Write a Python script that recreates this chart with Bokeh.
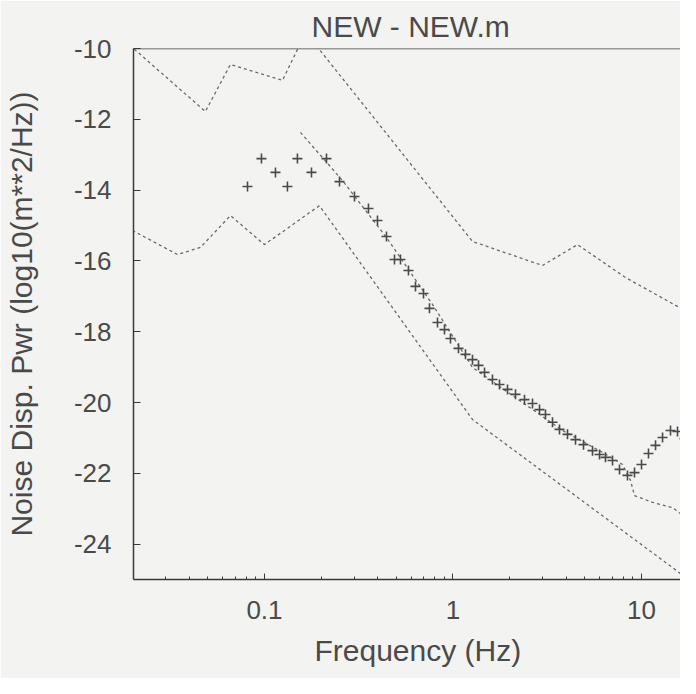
from bokeh.plotting import figure
from bokeh.models import FixedTicker, Title, Span
from bokeh.embed import file_html
from bokeh.resources import INLINE

# ---- data ----
x_ticks = [0.1, 1, 10]
x_tick_labels = ["0.1", "1", "10"]
y_ticks = [-24, -22, -20, -18, -16, -14, -12, -10]
y_tick_labels = ["-24", "-22", "-20", "-18", "-16", "-14", "-12", "-10"]

# measured spectrum (markers)
data_f = [0.0813, 0.0964, 0.1144, 0.1324, 0.1496, 0.1776, 0.2133, 0.2500, 0.3002,
          0.3562, 0.3977, 0.4439, 0.4895, 0.5266, 0.5805, 0.6326, 0.6976, 0.7503,
          0.8276, 0.9014, 0.9699, 1.0695, 1.165, 1.269, 1.366, 1.470, 1.620, 1.765,
          1.946, 2.146, 2.395, 2.641, 2.877, 3.095, 3.372, 3.673, 4.050, 4.466,
          4.924, 5.497, 5.988, 6.442, 7.019, 7.644, 8.426, 9.181, 10.00, 10.89,
          11.87, 12.93, 14.25, 15.52, 16.91]
data_p = [-13.90, -13.11, -13.50, -13.90, -13.11, -13.50, -13.11, -13.76, -14.18,
          -14.52, -14.86, -15.31, -15.96, -15.96, -16.27, -16.72, -16.92, -17.34,
          -17.74, -17.94, -18.19, -18.47, -18.64, -18.79, -18.95, -19.15, -19.35, -19.49,
          -19.63, -19.77, -19.92, -20.03, -20.20, -20.34, -20.56, -20.76, -20.90, -21.05,
          -21.19, -21.36, -21.47, -21.55, -21.64, -21.89, -22.06, -21.98, -21.75, -21.44,
          -21.21, -20.99, -20.79, -20.82, -21.02]

# upper envelope (dotted)
high_f = [0.0180, 0.0202, 0.0486, 0.0660, 0.1246, 0.1496, 0.1712, 0.1957, 1.269,
          2.984, 4.576, 8.224, 17.76]
high_p = [-9.6, -10.0, -11.78, -10.45, -10.90, -10.03, -9.7, -10.03, -15.45,
          -16.13, -15.54, -16.47, -17.46]

# lower envelope (dotted)
low_f = [0.01994, 0.03455, 0.04576, 0.0660, 0.100, 0.1957, 1.269, 17.76]
low_p = [-15.14, -15.82, -15.62, -14.72, -15.54, -14.44, -20.48, -25.0]

# smoothed spectrum (dotted)
mid_f = [0.1552, 0.2594, 0.4439, 0.7785, 1.269, 2.337, 3.810, 6.211, 7.930, 8.742,
         9.181, 11.44, 14.60, 17.76]
mid_p = [-12.37, -13.73, -15.34, -17.23, -19.01, -20.0, -20.79, -21.41, -21.75,
         -22.2, -22.63, -22.82, -22.97, -23.31]

BG = "#f3f3f1"
INK = "#4a4a4a"
AX = "#3a3a3a"
FONT = "Liberation Sans"

p = figure(width=680, height=678, x_axis_type="log",
           x_range=(0.0202, 16.1), y_range=(-25, -10),
           output_backend="svg", toolbar_location=None,
           min_border_left=133, min_border_top=48, min_border_bottom=99,
           min_border_right=0)
p.background_fill_color = BG
p.border_fill_color = BG
p.outline_line_color = None
p.grid.visible = False

dots = dict(line_color="#6a6a6a", line_width=1.3, line_dash="3 3")
p.line(high_f, high_p, **dots)
p.line(low_f, low_p, **dots)
p.line(mid_f, mid_p, **dots)
p.scatter(data_f, data_p, marker="cross", size=10, line_width=1.6, line_color=INK)

# top border of the frame
p.add_layout(Span(location=y_ticks[-1], dimension="width", line_color=AX, line_width=1.5))

minor = [m * d for d in (0.01, 0.1, 1, 10) for m in range(2, 10)]

# x axis
xa = p.xaxis[0]
xa.ticker = FixedTicker(ticks=x_ticks, minor_ticks=minor)
xa.major_label_overrides = dict(zip(x_ticks, x_tick_labels))
xa.major_tick_in = 6
xa.major_tick_out = 0
xa.minor_tick_in = 3
xa.minor_tick_out = 0
xa.axis_line_color = AX
xa.axis_line_width = 1.5
xa.major_tick_line_color = AX
xa.minor_tick_line_color = AX
xa.major_label_standoff = 21
xa.major_label_text_font = FONT
xa.major_label_text_font_size = "26px"
xa.major_label_text_color = INK

# y axis
ya = p.yaxis[0]
ya.ticker = FixedTicker(ticks=y_ticks)
ya.major_label_overrides = dict(zip(y_ticks, y_tick_labels))
ya.major_tick_in = 7
ya.major_tick_out = 0
ya.minor_tick_line_color = None
ya.axis_line_color = AX
ya.axis_line_width = 1.5
ya.major_tick_line_color = AX
ya.major_label_standoff = 22
ya.major_label_text_font = FONT
ya.major_label_text_font_size = "26px"
ya.major_label_text_color = INK
ya.axis_label = "Noise Disp. Pwr (log10(m**2/Hz))"
ya.axis_label_text_font = FONT
ya.axis_label_text_font_size = "30px"
ya.axis_label_text_font_style = "normal"
ya.axis_label_text_color = INK
ya.axis_label_standoff = 33

# title
p.title.text = "NEW - NEW.m"
p.title.align = "left"
p.title.offset = 178
p.title.standoff = 12
p.title.text_font = FONT
p.title.text_font_size = "30px"
p.title.text_font_style = "normal"
p.title.text_color = INK

# x-axis title (as a title placed below, to allow a horizontal offset)
p.add_layout(Title(text="Frequency (Hz)", align="left", offset=181,
                   text_font=FONT, text_font_size="30px", text_font_style="normal",
                   text_color=INK, standoff=21), "below")

open("out.html", "w").write(file_html(p, INLINE))
